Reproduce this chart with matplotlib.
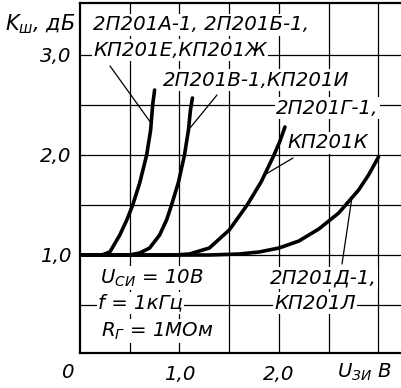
import matplotlib
matplotlib.use("Agg")
import matplotlib.pyplot as plt

# ---- data ----
a_x = [0.00, 0.22, 0.30, 0.40, 0.47, 0.53, 0.60, 0.67, 0.71, 0.73, 0.75]
a_y = [1.00, 1.00, 1.03, 1.20, 1.35, 1.50, 1.72, 2.00, 2.25, 2.50, 2.65]

b_x = [0.00, 0.50, 0.60, 0.70, 0.80, 0.87, 0.92, 0.99, 1.05, 1.09, 1.11, 1.13]
b_y = [1.00, 1.00, 1.02, 1.07, 1.20, 1.35, 1.50, 1.73, 2.00, 2.25, 2.45, 2.57]

c_x = [0.00, 0.95, 1.10, 1.30, 1.50, 1.68, 1.82, 1.95, 2.01, 2.06]
c_y = [1.00, 1.00, 1.01, 1.07, 1.25, 1.50, 1.73, 2.00, 2.14, 2.28]

d_x = [0.00, 1.30, 1.60, 1.80, 2.00, 2.20, 2.40, 2.60, 2.80, 2.90, 3.00]
d_y = [1.00, 1.00, 1.01, 1.03, 1.07, 1.14, 1.26, 1.42, 1.65, 1.80, 1.98]

series = [(a_x, a_y), (b_x, b_y), (c_x, c_y), (d_x, d_y)]

x_gridlines = [0.5, 1.0, 1.5, 2.0, 2.5, 3.0]
y_gridlines = [0.5, 1.0, 1.5, 2.0, 2.5, 3.0]
y_ticks = [1.0, 2.0, 3.0]
y_ticklabels = ["1,0", "2,0", "3,0"]
x_ticks = [1.0, 2.0]
x_ticklabels = ["1,0", "2,0"]

plt.rcParams['font.family'] = ['DejaVu Sans']
plt.rcParams['font.style'] = 'italic'
plt.rcParams['mathtext.fontset'] = 'dejavusans'
plt.rcParams['mathtext.default'] = 'it'

W, H = 402, 388
fig = plt.figure(figsize=(W / 100, H / 100), dpi=100)
ax = fig.add_axes([80 / W, 35 / H, 1 - 80 / W, 350 / H])
ax.set_xlim(0, 322 / 99.5)
ax.set_ylim(0.02, 3.52)

for s in ['left', 'bottom', 'top']:
    ax.spines[s].set_linewidth(1.6)
ax.spines['right'].set_visible(False)

for gx in x_gridlines:
    ax.axvline(gx, color='black', lw=0.9, zorder=1)
for gy in y_gridlines:
    ax.axhline(gy, color='black', lw=0.9, zorder=1)

fs = 14.2
ax.set_yticks(y_ticks)
ax.set_yticklabels(y_ticklabels)
ax.set_xticks(x_ticks)
ax.set_xticklabels(x_ticklabels)
ax.tick_params(length=0, labelsize=fs, pad=6)
ax.tick_params(axis='x', pad=9)

for xs, ys in series:
    ax.plot(xs, ys, color='black', lw=2.6, solid_capstyle='round',
            solid_joinstyle='round', zorder=4)

bb = dict(facecolor='white', edgecolor='none', pad=0.8)

def px(x, y):
    return ((x - 80) / 99.5, 1 + (255 - y) / 100)

def label(x, y, s, **kw):
    ax.text(*px(x, y), s, fontsize=fs, ha='left', va='center', bbox=bb,
            zorder=3, **kw)

label(93, 25, "2П201А-1, 2П201Б-1,")
label(93, 50, "КП201Е,КП201Ж")
label(163, 80, "2П201В-1,КП201И")
label(276, 108, "2П201Г-1,")
label(287, 143, "КП201К")
label(270, 278, "2П201Д-1,")
label(274, 303, "КП201Л")
label(100, 278, "$U_{СИ}$ = 10В")
label(98, 303, "f = 1кГц")
label(101, 331, "$R_{Г}$ = 1МОм")

# leader lines
leaders = [((110, 66), (151, 123)),
           ((217, 95), (190, 128)),
           ((293, 158), (266, 174)),
           ((352, 197), (342, 264))]
for p0, p1 in leaders:
    ax.annotate("", xy=px(*p1), xytext=px(*p0),
                arrowprops=dict(arrowstyle='-', lw=0.9, color='black',
                                shrinkA=0, shrinkB=0), zorder=5)

fig.text(5 / W, 1 - 24 / H, "$K_{ш}$, дБ", fontsize=15, ha='left', va='center')
fig.text(67 / W, 1 - 372 / H, "0", fontsize=fs, ha='center', va='center')
fig.text(337 / W, 1 - 372 / H, "$U_{ЗИ}$ В", fontsize=fs, ha='left', va='center')

fig.savefig("out.png", dpi=100)
